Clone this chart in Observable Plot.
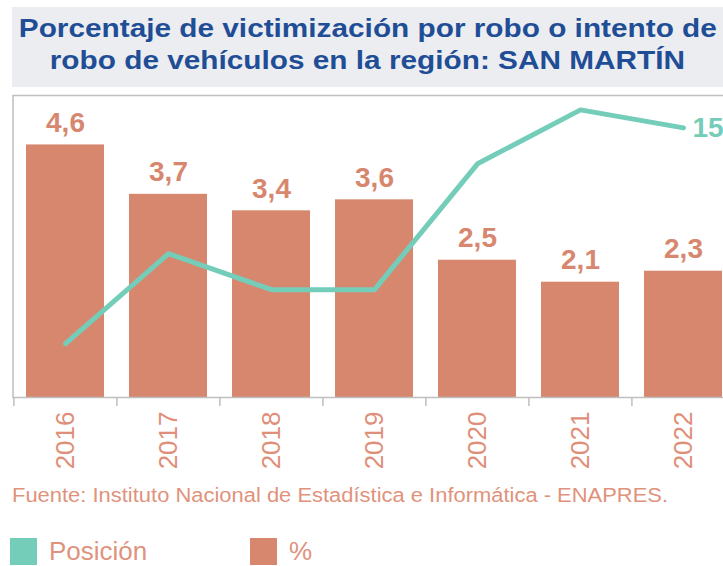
<!DOCTYPE html>
<html>
<head>
<meta charset="utf-8">
<script src="https://cdn.jsdelivr.net/npm/d3@7"></script>
<script src="https://cdn.jsdelivr.net/npm/@observablehq/plot@0.6"></script>
<style>
  html, body { margin: 0; padding: 0; background: #fff; }
  body { width: 723px; height: 566px; position: relative; overflow: hidden; font-family: "Liberation Sans", Arial, sans-serif; }
  #title { position: absolute; left: 12px; top: 7px; width: 711px; height: 80px; background: #ECEDF1; color: #1F4E96; font-weight: bold; font-size: 26px; line-height: 32px; text-align: center; box-sizing: border-box; padding-top: 5px; white-space: nowrap; }
  #title span { display: inline-block; transform: scaleX(1.145); transform-origin: 50% 50%; }
  #chart { position: absolute; left: 0; top: 90px; width: 723px; height: 390px; overflow: hidden; }
  #source { position: absolute; left: 12px; top: 485px; font-size: 20px; line-height: 20px; color: #E0937C; white-space: nowrap; transform: scaleX(1.097); transform-origin: 0 50%; }
  .leg { position: absolute; top: 538px; height: 27px; display: flex; align-items: center; font-size: 26px; color: #E0937C; }
  .sw { width: 27px; height: 27px; margin-right: 12px; }
</style>
</head>
<body>
<div id="title"><span>Porcentaje de victimización por robo o intento de</span><br><span>robo de vehículos en la región: SAN MARTÍN</span></div>
<div id="chart"></div>
<div id="source">Fuente: Instituto Nacional de Estadística e Informática - ENAPRES.</div>
<div class="leg" style="left:10px"><div class="sw" style="background:#73CDB9"></div>Posición</div>
<div class="leg" style="left:250px"><div class="sw" style="background:#D8876F"></div>%</div>
<script>
const years = ["2016", "2017", "2018", "2019", "2020", "2021", "2022"];
const pct = [4.6, 3.7, 3.4, 3.6, 2.5, 2.1, 2.3];
const posicion = [3, 8, 6, 6, 13, 16, 15];
const pctMax = 5.5;
const posMax = 16.8;

const barColor = "#D8876F";
const lineColor = "#73CDB9";
const data = years.map((y, i) => ({year: y, pct: pct[i], pos: posicion[i]}));

const W = 760, H = 390;
const mL = 12.5, mR = 25;
const step = (W - mL - mR) / years.length;
const pad = 0.244;

const chart = Plot.plot({
  width: W,
  height: H,
  marginTop: 5,
  marginBottom: 83,
  marginLeft: mL,
  marginRight: mR,
  style: {fontFamily: "Liberation Sans, Arial, sans-serif", fontSize: "26px", color: "#DF8F79", background: "transparent", maxWidth: "none", overflow: "hidden"},
  x: {type: "band", domain: years, paddingInner: pad, paddingOuter: pad / 2, tickRotate: -90, tickSize: 0, tickPadding: 14, label: null},
  y: {domain: [0, pctMax], axis: null},
  marks: [
    Plot.barY(data, {x: "year", y: "pct", fill: barColor}),
    Plot.frame({stroke: "#BFBFBF", strokeWidth: 1.5}),
    Plot.ruleX(years, {x: d => d, y1: 0, y2: 0, dx: -step / 2, insetBottom: -9, stroke: "#BFBFBF", strokeWidth: 1.5}),
    Plot.line(data, {x: "year", y: d => d.pos / posMax * pctMax, stroke: lineColor, strokeWidth: 5}),
    Plot.text(data, {x: "year", y: "pct", text: d => d.pct.toFixed(1).replace(".", ","), dy: -22, fill: barColor, fontWeight: "bold", fontSize: 28}),
    Plot.text(data.slice(-1), {x: "year", y: d => d.pos / posMax * pctMax, text: d => String(d.pos), dx: 9, textAnchor: "start", fill: lineColor, fontWeight: "bold", fontSize: 28})
  ]
});
document.getElementById("chart").appendChild(chart);
</script>
</body>
</html>
